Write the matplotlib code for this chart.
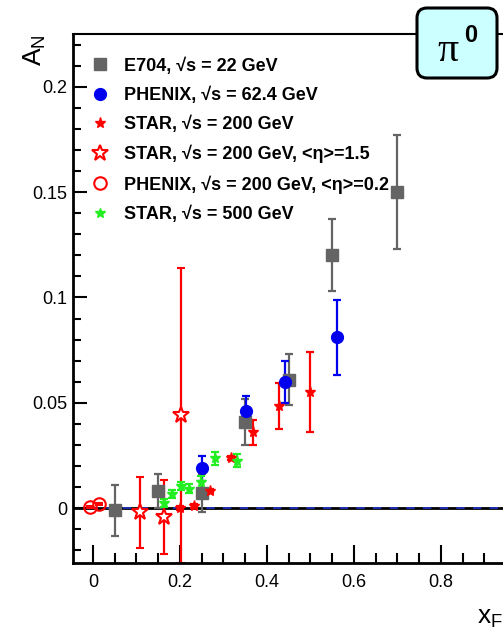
import numpy as np
import matplotlib
matplotlib.use("Agg")
import matplotlib.pyplot as plt
from matplotlib.ticker import MultipleLocator, FixedLocator, FuncFormatter
from matplotlib.patches import FancyBboxPatch

plt.rcParams['font.family'] = ['Liberation Sans', 'DejaVu Sans']

# E704, sqrt(s)=22 GeV
e704_x = [0.05, 0.15, 0.25, 0.35, 0.45, 0.55, 0.70]
e704_y = [-0.001, 0.008, 0.007, 0.041, 0.061, 0.120, 0.150]
e704_e = [0.012, 0.008, 0.009, 0.011, 0.012, 0.017, 0.027]

# PHENIX 62.4 GeV
phx62_x = [0.25, 0.352, 0.441, 0.561]
phx62_y = [0.019, 0.046, 0.060, 0.081]
phx62_e = [0.006, 0.007, 0.010, 0.018]

# STAR 200 GeV
star200_x = [0.20, 0.232, 0.27, 0.317, 0.368, 0.428, 0.499]
star200_y = [0.000, 0.001, 0.008, 0.024, 0.036, 0.0485, 0.055]
star200_e = [0.001, 0.001, 0.001, 0.001, 0.006, 0.011, 0.019]

# STAR 200 GeV, <eta>=1.5
star15_x = [0.108, 0.163, 0.202]
star15_y = [-0.002, -0.004, 0.044]
star15_e = [0.017, 0.0175, 0.070]

# PHENIX 200 GeV, <eta>=0.2
phx200_x = [-0.007, 0.013]
phx200_y = [0.0005, 0.002]
phx200_e = [0.0005, 0.0005]

# STAR 500 GeV
star500_x = [0.163, 0.182, 0.202, 0.22, 0.248, 0.28, 0.33]
star500_y = [0.0024, 0.0067, 0.0105, 0.0093, 0.0124, 0.0236, 0.0225]
star500_e = [0.002, 0.002, 0.002, 0.002, 0.003, 0.003, 0.003]

labels = ["E704, √s = 22 GeV",
          "PHENIX, √s = 62.4 GeV",
          "STAR, √s = 200 GeV",
          "STAR, √s = 200 GeV, <η>=1.5",
          "PHENIX, √s = 200 GeV, <η>=0.2",
          "STAR, √s = 500 GeV"]
xticks = [0, 0.2, 0.4, 0.6, 0.8]

fig = plt.figure(figsize=(5.03, 6.33), dpi=100)
ax = fig.add_axes([0.1451, 0.1106, 0.9046, 0.8357])
ax.set_xlim(-0.046, 1.0)
ax.set_ylim(-0.026, 0.225)

ax.axhline(0, color='black', lw=2, zorder=1)
ax.axhline(0, color='#2233cc', lw=1.2, ls=(0, (5, 5)), zorder=1.1)

ekw = dict(capsize=3, elinewidth=1.6, capthick=1.6, linestyle='none')
h1 = ax.errorbar(e704_x, e704_y, yerr=e704_e, fmt='s', color='#646464', ms=8, **ekw)
h2 = ax.errorbar(phx62_x, phx62_y, yerr=phx62_e, fmt='o', color='#0000ee', ms=8.5, **ekw)
h3 = ax.errorbar(star200_x, star200_y, yerr=star200_e, fmt='*', color='#ff0000', ms=8, **ekw)
h4 = ax.errorbar(star15_x, star15_y, yerr=star15_e, fmt='*', color='#ff0000', ms=12,
                 mfc='white', mew=1.5, **ekw)
h5 = ax.errorbar(phx200_x, phx200_y, yerr=phx200_e, fmt='o', color='#ff0000', ms=9,
                 mfc='none', mew=1.5, **ekw)
h6 = ax.errorbar(star500_x, star500_y, yerr=star500_e, fmt='*', color='#22ee22', ms=7, **ekw)

handles = [h[0] for h in [h1, h2, h3, h4, h5, h6]]
ax.legend(handles, labels, loc='upper left', bbox_to_anchor=(0.0, 0.98), frameon=False,
          prop={'weight': 'bold', 'size': 13}, handletextpad=0.55, labelspacing=0.66,
          handlelength=1.6, borderaxespad=0.3)

ax.xaxis.set_major_locator(FixedLocator(xticks))
ax.xaxis.set_minor_locator(MultipleLocator(0.05))
ax.yaxis.set_major_locator(MultipleLocator(0.05))
ax.yaxis.set_minor_locator(MultipleLocator(0.01))
fmt = FuncFormatter(lambda v, p: '%g' % round(v, 3))
ax.xaxis.set_major_formatter(fmt)
ax.yaxis.set_major_formatter(fmt)
ax.tick_params(axis='x', which='major', direction='in', length=13, width=1.5, labelsize=13, pad=8)
ax.tick_params(axis='x', which='minor', direction='in', length=7, width=1.5)
ax.tick_params(axis='y', which='major', direction='in', length=10, width=1.5, labelsize=13, pad=4)
ax.tick_params(axis='y', which='minor', direction='in', length=6, width=1.5)

for s in ['left', 'bottom']:
    ax.spines[s].set_linewidth(2)
ax.spines['top'].set_linewidth(1.5)
ax.spines['right'].set_visible(False)

fig.text(35 / 503, 1 - 50 / 633, 'A$_\\mathregular{N}$', rotation=90, fontsize=19,
         ha='center', va='center')
fig.text(477 / 503, 1 - 618 / 633, 'x$_\\mathregular{F}$', fontsize=19, ha='left', va='center')

# pi0 box (pixel positions converted to inches)
box = FancyBboxPatch((4.17, 6.33 - 0.78), 0.80, 0.70,
                     boxstyle='round,pad=0,rounding_size=0.1',
                     transform=fig.dpi_scale_trans, fc='#ccffff', ec='black', lw=2.2,
                     zorder=5)
fig.patches.append(box)
fig.text(448 / 503, 1 - 51 / 633, 'π', family='Liberation Serif', fontsize=30,
         ha='center', va='center', zorder=6)
fig.text(471 / 503, 1 - 36 / 633, '0', fontsize=17, fontweight='bold',
         ha='center', va='center', zorder=6)

fig.savefig('out.png', dpi=100)
